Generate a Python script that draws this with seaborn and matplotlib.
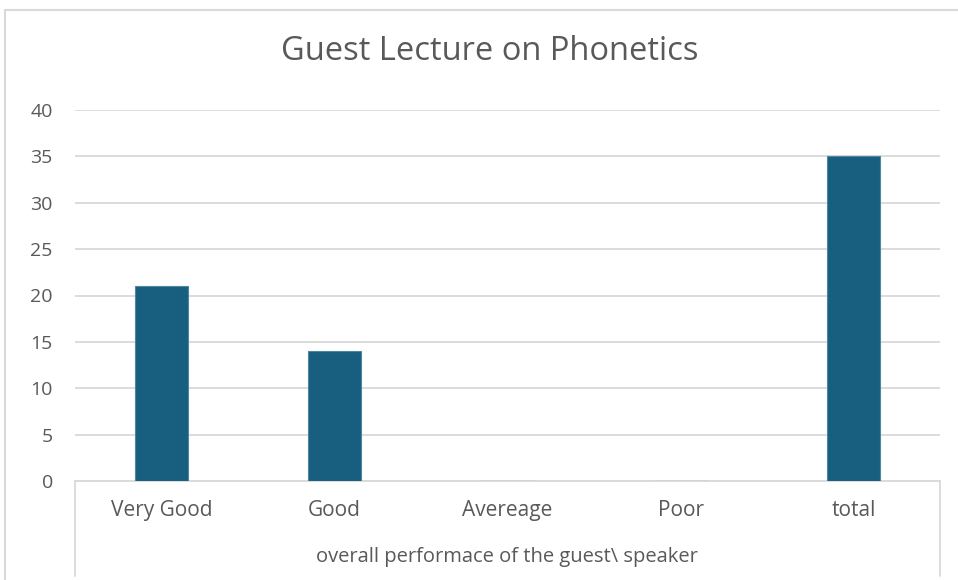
import matplotlib
matplotlib.use("Agg")
import matplotlib.pyplot as plt
from matplotlib.lines import Line2D
import pandas as pd
import seaborn as sns

categories = ["Very Good", "Good", "Avereage", "Poor", "total"]
counts = [21, 14, 0, 0, 35]
title = "Guest Lecture on Phonetics"
xlabel = "overall performace of the guest\\ speaker"
yticks = [0, 5, 10, 15, 20, 25, 30, 35, 40]

sns.set_style("white")
plt.rcParams["font.family"] = ["Open Sans", "DejaVu Sans"]

W, H = 958, 580
fig = plt.figure(figsize=(W / 100, H / 100), dpi=100)
ax = fig.add_axes([75 / W, 1 - 481 / H, (940 - 75) / W, (481 - 110) / H])

df = pd.DataFrame({"category": categories, "count": counts})
sns.barplot(data=df, x="category", y="count", color="#175E7F", width=0.31,
            saturation=1, edgecolor="#4F86A0", linewidth=0.8, ax=ax, zorder=3)

text_col = "#595959"
grid_col = "#D9D9D9"

ax.set_xlim(-0.5, 4.5)
ax.set_ylim(0, 40)
ax.set_yticks(yticks)
ax.set_yticklabels([str(v) for v in yticks], fontsize=14, color=text_col)
ax.tick_params(axis="y", length=0, pad=16)
ax.tick_params(axis="x", length=0, pad=14, labelsize=15, labelcolor=text_col)
ax.yaxis.grid(True, color=grid_col, linewidth=1.3, zorder=0)
ax.set_axisbelow(True)
for s in ["top", "right", "left"]:
    ax.spines[s].set_visible(False)
ax.spines["bottom"].set_color(grid_col)
ax.spines["bottom"].set_linewidth(1.3)
ax.set_xlabel("")
ax.set_ylabel("")

fig.text(507 / W, 1 - 557 / H, xlabel, ha="center", va="center",
         fontsize=14.5, color=text_col)
fig.text(490 / W, 1 - 52 / H, title, ha="center", va="center",
         fontsize=23.5, color=text_col)

# multi-level axis dividers
for x in (75, 940):
    fig.add_artist(Line2D([x / W, x / W], [1 - 481 / H, 1 - 576 / H],
                          color=grid_col, linewidth=1.3))

# chart area border
fig.add_artist(Line2D([5 / W, 5 / W], [0, 1 - 10 / H], color=grid_col, linewidth=1.5))
fig.add_artist(Line2D([5 / W, 1], [1 - 10 / H, 1 - 10 / H], color=grid_col, linewidth=1.5))

fig.savefig("out.png", dpi=100, facecolor="white")
